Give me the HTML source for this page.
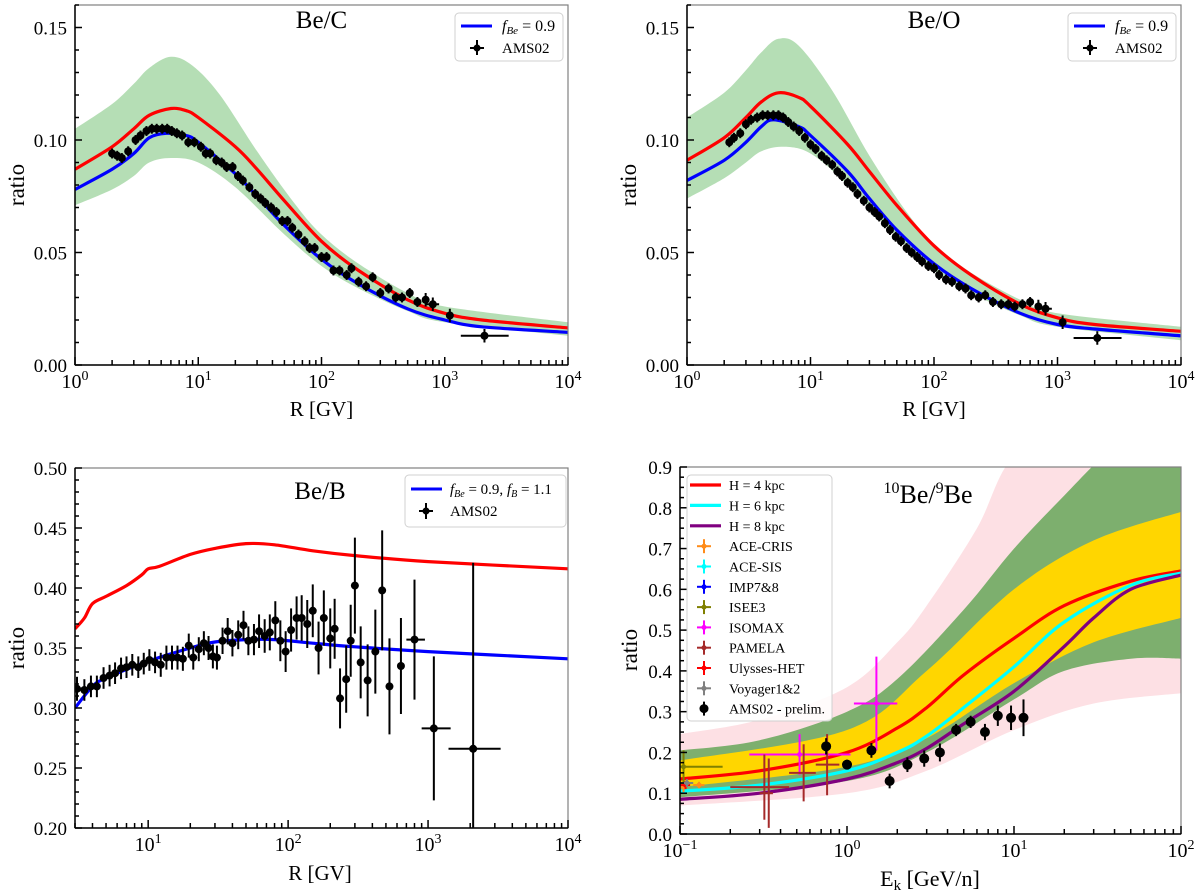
<!DOCTYPE html>
<html><head><meta charset="utf-8"><style>
body{margin:0;background:#fff}
svg{display:block;font-family:"Liberation Serif",serif}
</style></head><body>
<svg id="fig" width="1200" height="896" viewBox="0 0 1200 896" xmlns="http://www.w3.org/2000/svg"></svg>
<script>
// ---------- Panel 1: Be/C ----------
const bc_band_x=[1,2,3,4,6,9,15,30,60,100,200,500,1000,10000];
const bc_band_hi=[0.105,0.116,0.125,0.132,0.137,0.133,0.120,0.095,0.072,0.058,0.045,0.032,0.026,0.019];
const bc_band_lo_x=[1,2,3,4,6,10,20,50,100,200,500,1000,10000];
const bc_band_lo=[0.071,0.078,0.084,0.090,0.092,0.090,0.079,0.058,0.044,0.034,0.024,0.019,0.013];
const bc_blue_x=[1,2,3,4,5.5,8,10,20,30,50,100,200,500,1000,2000,10000];
const bc_blue_y=[0.078,0.087,0.094,0.101,0.103,0.102,0.099,0.085,0.075,0.062,0.047,0.036,0.025,0.020,0.017,0.0145];
const bc_red_x=[1,2,3,4,6,8,10,20,30,50,100,200,500,1000,2000,10000];
const bc_red_y=[0.087,0.097,0.105,0.111,0.114,0.113,0.110,0.097,0.087,0.073,0.055,0.042,0.029,0.023,0.020,0.0165];
const bc_data_x=[2.0,2.2,2.4,2.7,3.1,3.4,3.8,4.2,4.6,5.1,5.6,6.1,6.7,7.4,8.3,9.3,10.5,11.5,12.5,14,15.5,17,19,21,23,26,29,32,35,39,43,48,53,58,65,73,80,88,100,110,125,140,160,175,200,230,260,300,350,400,450,520,600,700,800,1100,2100];
const bc_data_y=[.094,.093,.092,.095,.100,.102,.104,.105,.105,.105,.105,.104,.103,.102,.099,.099,.097,.094,.094,.091,.090,.088,.088,.084,.082,.079,.076,.074,.072,.070,.068,.064,.064,.061,.058,.055,.052,.052,.048,.048,.042,.042,.040,.043,.037,.035,.039,.032,.034,.030,.030,.032,.028,.029,.027,.022,.013];
// ---------- Panel 2: Be/O ----------
const bo_band_x=[1,2,3,4,5.5,8,15,30,60,100,200,500,1000,10000];
const bo_band_hi=[0.110,0.121,0.131,0.139,0.145,0.142,0.122,0.093,0.068,0.054,0.041,0.029,0.023,0.017];
const bo_band_lo_x=[1,2,3,4,6,10,20,50,100,200,500,1000,10000];
const bo_band_lo=[0.074,0.083,0.090,0.095,0.097,0.094,0.080,0.057,0.042,0.032,0.022,0.017,0.011];
const bo_blue_x=[1,2,3,4,5,8,10,20,30,50,100,200,500,1000,2000,10000];
const bo_blue_y=[0.082,0.091,0.099,0.106,0.109,0.106,0.102,0.086,0.074,0.060,0.045,0.034,0.023,0.018,0.016,0.013];
const bo_red_x=[1,2,3,4,5.5,8,10,20,30,50,100,200,500,1000,2000,10000];
const bo_red_y=[0.091,0.101,0.110,0.117,0.121,0.119,0.115,0.098,0.086,0.071,0.053,0.040,0.027,0.021,0.018,0.015];
const bo_data_x=[2.2,2.4,2.7,3.0,3.3,3.7,4.1,4.5,5.0,5.5,6.0,6.6,7.3,8.1,9.0,10,11,12.3,13.5,15,16.5,18,20,22,24,27,30,33,36,40,44,49,54,60,66,73,80,90,100,110,125,140,160,180,200,230,260,300,350,400,450,520,600,700,800,1100,2100];
const bo_data_y=[.099,.101,.103,.107,.109,.110,.111,.111,.111,.111,.110,.108,.106,.104,.101,.098,.096,.093,.091,.089,.086,.084,.081,.079,.076,.073,.070,.068,.066,.063,.060,.057,.055,.052,.050,.048,.046,.044,.043,.040,.038,.037,.035,.034,.031,.030,.031,.028,.027,.027,.026,.027,.028,.026,.025,.019,.012];
// ---------- Panel 3: Be/B ----------
const bb_red_x=[3,3.5,4,5,7,9,10,12,20,30,50,80,150,300,1000,10000];
const bb_red_y=[.366,.375,.387,.393,.402,.411,.416,.418,.428,.433,.437,.436,.431,.427,.422,.416];
const bb_blue_x=[3,4,5,10,20,30,50,80,150,300,1000,10000];
const bb_blue_y=[.300,.318,.325,.339,.350,.355,.357,.357,.354,.351,.347,.341];
const bb_data_x=[3.1,3.5,3.9,4.3,4.8,5.3,5.8,6.4,7.0,7.7,8.5,9.3,10.2,11.2,12.3,13.5,14.8,16.2,17.7,19.5,21,23,25,27,29,31,34,37,40,44,48,52,57,62,68,74,81,88,96,105,115,125,137,150,165,180,200,215,235,260,280,300,330,370,420,470,530,640,800,1100,2100];
const bb_data_y=[.316,.315,.318,.318,.325,.327,.329,.333,.334,.336,.334,.337,.340,.338,.336,.342,.342,.342,.341,.352,.342,.349,.354,.350,.343,.342,.356,.364,.354,.361,.369,.356,.357,.364,.360,.363,.373,.356,.347,.365,.375,.375,.370,.381,.350,.375,.358,.366,.308,.324,.356,.402,.338,.323,.347,.398,.318,.335,.357,.283,.266];
const bb_data_err=[.010,.009,.009,.009,.009,.009,.009,.009,.009,.009,.009,.009,.009,.009,.010,.010,.010,.010,.010,.010,.010,.010,.010,.010,.010,.010,.011,.011,.011,.012,.012,.012,.013,.014,.014,.015,.016,.017,.017,.018,.018,.019,.020,.022,.022,.023,.025,.025,.025,.028,.030,.040,.030,.030,.035,.050,.040,.040,.050,.060,.155];
const bb_xerr_lo=[null,null,null,null,null,null,null,null,null,null,null,null,null,null,null,null,null,null,null,null,null,null,null,null,null,null,null,null,null,null,null,null,null,null,null,null,null,null,null,null,null,null,null,null,null,null,null,null,null,null,null,null,null,null,null,null,null,null,700,900,1400];
const bb_xerr_hi=[null,null,null,null,null,null,null,null,null,null,null,null,null,null,null,null,null,null,null,null,null,null,null,null,null,null,null,null,null,null,null,null,null,null,null,null,null,null,null,null,null,null,null,null,null,null,null,null,null,null,null,null,null,null,null,null,null,null,950,1450,3300];
// ---------- Panel 4: 10Be/9Be ----------
const be_pink_x=[0.1,0.3,1,2,3,6,10,30,100];
const be_pink_hi=[.245,.28,.36,.47,.56,.75,.93,1.1,1.2];
const be_pink_lo_x=[0.1,1,3,10,30,100];
const be_pink_lo=[.07,.10,.155,.255,.32,.345];
const be_green_x=[0.1,0.3,1,2,5,10,20,35,60,100];
const be_green_hi=[.205,.23,.30,.38,.55,.70,.83,.93,1.0,1.05];
const be_green_lo_x=[0.1,1,3,10,20,50,100];
const be_green_lo=[.09,.13,.20,.33,.40,.43,.43];
const be_yel_x=[0.1,1,3,10,30,100];
const be_yel_hi=[.18,.255,.40,.60,.72,.79];
const be_yel_lo=[.115,.165,.235,.37,.47,.53];
const be_red_x=[0.1,0.3,1,2,3,5,10,20,50,100];
const be_red_y=[.135,.155,.20,.26,.31,.39,.48,.56,.62,.645];
const be_cyan_x=[0.1,0.3,1,2,3,5,10,20,50,100];
const be_cyan_y=[.105,.12,.155,.20,.24,.31,.41,.52,.61,.64];
const be_purple_x=[0.1,0.3,1,2,3,5,10,20,30,50,100];
const be_purple_y=[.085,.10,.135,.175,.21,.27,.35,.46,.53,.60,.635];
const ams_x=[0.75,1.0,1.4,1.8,2.3,2.9,3.6,4.5,5.5,6.7,8.0,9.6,11.4];
const ams_y=[.215,.17,.205,.13,.17,.185,.20,.255,.275,.25,.29,.285,.285];
const ams_err=[.02,.012,.018,.018,.018,.02,.022,.015,.015,.02,.025,.03,.045];
const exp_name=['ACE-CRIS','ACE-CRIS','ISEE3','ISOMAX','ISOMAX','PAMELA','PAMELA','PAMELA','PAMELA','Ulysses-HET','Voyager1&2'];
const exp_x=[0.105,0.13,0.105,0.52,1.5,0.32,0.34,0.55,0.76,0.108,0.11];
const exp_y=[.115,.12,.165,.195,.32,.115,.10,.15,.17,.12,.125];
const exp_yerr=[.012,.008,.04,.05,.115,.08,.085,.07,.075,.01,.01];
const exp_xlo=[0.1,0.12,0.1,0.26,1.1,0.2,0.3,0.45,0.65,0.1,0.1];
const exp_xhi=[0.11,0.14,0.18,1.05,2.0,0.45,0.36,0.65,0.9,0.115,0.12];
const exp_color={'ACE-CRIS':'#ff8c1a','ISEE3':'#808000','ISOMAX':'#ff00ff','PAMELA':'#a52a2a','Ulysses-HET':'#ff0000','Voyager1&2':'#808080'};

const NS='http://www.w3.org/2000/svg';
const svg=document.getElementById('fig');
function el(tag,attrs,parent){const e=document.createElementNS(NS,tag);for(const k in attrs)e.setAttribute(k,attrs[k]);(parent||svg).appendChild(e);return e;}
function axes(L,R,T,B,x0,x1,y0,y1){
  const lx0=Math.log10(x0),lx1=Math.log10(x1);
  return {L,R,T,B,x:v=>L+(Math.log10(v)-lx0)/(lx1-lx0)*(R-L),y:v=>B-(v-y0)/(y1-y0)*(B-T),x0,x1,y0,y1};
}
function smooth(pts){
  let d='M'+pts[0][0].toFixed(1)+','+pts[0][1].toFixed(1);
  for(let i=0;i<pts.length-1;i++){
    const p0=pts[i-1]||pts[i],p1=pts[i],p2=pts[i+1],p3=pts[i+2]||p2;
    const c1=[p1[0]+(p2[0]-p0[0])/6,p1[1]+(p2[1]-p0[1])/6];
    const c2=[p2[0]-(p3[0]-p1[0])/6,p2[1]-(p3[1]-p1[1])/6];
    d+='C'+c1.map(v=>v.toFixed(1))+' '+c2.map(v=>v.toFixed(1))+' '+p2[0].toFixed(1)+','+p2[1].toFixed(1);
  }
  return d;
}
function clipFor(a,id){const cp=el('clipPath',{id});el('rect',{x:a.L,y:a.T,width:a.R-a.L,height:a.B-a.T},cp);return 'url(#'+id+')';}
function curve(a,g,xs,ys,color,name){
  const p=el('path',{d:smooth(xs.map((v,i)=>[a.x(v),a.y(ys[i])])),fill:'none',stroke:color,'stroke-width':3.2},g);
  
  
}
function band(a,g,xh,yh,xl,yl,color,name){
  const up=xh.map((v,i)=>[a.x(v),a.y(yh[i])]);
  const lo=xl.map((v,i)=>[a.x(v),a.y(yl[i])]).reverse();
  const d=smooth(up)+'L'+lo[0][0].toFixed(1)+','+lo[0][1].toFixed(1)+smooth(lo).replace(/^M[^C]*/,'')+'Z';
  const p=el('path',{d,fill:color,stroke:'none'},g);
  
  
}
function points(a,g,xs,ys,errs,color,name,xlo,xhi,r){
  xs.forEach((v,i)=>{
    const gg=el('g',{},g);
    
    
    const cx=a.x(v),cy=a.y(ys[i]),e=errs[i];
    el('line',{x1:cx,x2:cx,y1:a.y(ys[i]-e),y2:a.y(ys[i]+e),stroke:color,'stroke-width':2},gg);
    if(xlo&&xlo[i]!=null) el('line',{x1:a.x(xlo[i]),x2:a.x(xhi[i]),y1:cy,y2:cy,stroke:color,'stroke-width':2},gg);
    if(r) el('circle',{cx,cy,r,fill:color},gg);
  });
}
function frame(a,yt,ymin,fmt,name){
  const g=el('g',{});
  
  
  el('rect',{x:a.L,y:a.T,width:a.R-a.L,height:a.B-a.T,fill:'none',stroke:'#808080','stroke-width':1.2},g);
  el('line',{x1:a.L,x2:a.L,y1:a.T,y2:a.B,stroke:'#000','stroke-width':1.5},g);
  el('line',{x1:a.L,x2:a.R,y1:a.B,y2:a.B,stroke:'#000','stroke-width':1.5},g);
  for(let v=a.y0;v<=a.y1+1e-9;v+=ymin){
    const y=a.y(v);const maj=Math.abs(v/yt-Math.round(v/yt))<1e-6;
    el('line',{x1:a.L,x2:a.L+(maj?7:4),y1:y,y2:y,stroke:'#000','stroke-width':1.5},g);
    if(maj){const t=el('text',{x:a.L-8,y:y+7,'text-anchor':'end','font-size':19},g);t.textContent=v.toFixed(fmt);
      }
  }
  const e0=Math.floor(Math.log10(a.x0)),e1=Math.ceil(Math.log10(a.x1));
  for(let e=e0;e<=e1;e++){for(let m=1;m<10;m++){const v=m*Math.pow(10,e);if(v<a.x0*0.999||v>a.x1*1.001)continue;
    const x=a.x(v);el('line',{x1:x,x2:x,y1:a.B,y2:a.B-(m==1?8:5),stroke:'#000','stroke-width':1.5},g);
    if(m==1){const t=el('text',{x:x,y:a.B+23,'text-anchor':'middle','font-size':20},g);
      
      const s1=el('tspan',{},t);s1.textContent='10';const s2=el('tspan',{'font-size':14,dy:-8},t);s2.textContent=(e<0?'\u2212'+(-e):e);}
  }}
  return g;
}
function label(x,y,txt,size,name,rot){const t=el('text',{x,y,'text-anchor':'middle','font-size':size});if(rot)t.setAttribute('transform','rotate(-90 '+x+' '+y+')');t.textContent=txt;
  return t;}
function legendBox(x,y,w,h,name){const r=el('rect',{x,y,width:w,height:h,rx:4,fill:'#fff','fill-opacity':0.85,stroke:'#d0d0d0'});return r;}

function drawBeX(a,id,bx,bh,bxl,bl,bxb,byb,rx,ry,dx,dy,title,name){
  const g=el('g',{'clip-path':clipFor(a,id)});
  
  
  band(a,g,bx,bh,bxl,bl,'rgba(44,160,44,0.35)','uncertainty-band');
  curve(a,g,rx,ry,'#ff0000','red-model-line');
  curve(a,g,bxb,byb,'#0000ff','blue-model-line');
  points(a,g,dx,dy,dx.map((v,i)=>i>=dx.length-4?0.003:0.0022),'#000','ams02-point',dx.map((v,i)=>i==dx.length-1?1350:(i==dx.length-3?700:null)),dx.map((v,i)=>i==dx.length-1?3300:(i==dx.length-3?900:null)),4);
  frame(a,0.05,0.01,2,name);
  label((a.L+a.R)/2,a.T+23,title,25,name+'-title');
  label((a.L+a.R)/2,a.B+51,'R [GV]',21,'x-axis-title');
  label(a.L-51,(a.T+a.B)/2,'ratio',23,'y-axis-title',true);
  legendBox(a.R-113,13,108,48,name+'-legend');
  el('line',{x1:a.R-107,x2:a.R-76,y1:26,y2:26,stroke:'#0000ff','stroke-width':3});
  const t=el('text',{x:a.R-66,y:31,'font-size':16,'font-style':'italic'});
  t.innerHTML='f<tspan font-size="11" dy="3">Be</tspan><tspan font-style="normal" dy="-3"> = 0.9</tspan>';
  el('line',{x1:a.R-91,x2:a.R-91,y1:40,y2:55,stroke:'#000','stroke-width':2});
  el('line',{x1:a.R-98,x2:a.R-84,y1:48,y2:48,stroke:'#000','stroke-width':2});
  el('circle',{cx:a.R-91,cy:48,r:3.5,fill:'#000'});
  const t2=el('text',{x:a.R-66,y:53,'font-size':15});t2.textContent='AMS02';
}
const a1=axes(75,568,5,365,1,1e4,0,0.16);
drawBeX(a1,'c1',bc_band_x,bc_band_hi,bc_band_lo_x,bc_band_lo,bc_blue_x,bc_blue_y,bc_red_x,bc_red_y,bc_data_x,bc_data_y,'Be/C','be-c');
const a2=axes(687,1181,5,365,1,1e4,0,0.16);
drawBeX(a2,'c2',bo_band_x,bo_band_hi,bo_band_lo_x,bo_band_lo,bo_blue_x,bo_blue_y,bo_red_x,bo_red_y,bo_data_x,bo_data_y,'Be/O','be-o');

// ===== Panel 3 =====
const a3=axes(75,568,468,828,3,1e4,0.2,0.5);
{
  const g=el('g',{'clip-path':clipFor(a3,'c3')});
  
  
  curve(a3,g,bb_red_x,bb_red_y,'#ff0000','red-model-line');
  curve(a3,g,bb_blue_x,bb_blue_y,'#0000ff','blue-model-line');
  points(a3,g,bb_data_x,bb_data_y,bb_data_err,'#000','ams02-point',bb_xerr_lo,bb_xerr_hi,4);
  frame(a3,0.05,0.01,2,'be-b');
  label(320,499,'Be/B',25,'be-b-title');
  label(320,880,'R [GV]',21,'x-axis-title');
  label(24,648,'ratio',23,'y-axis-title',true);
  legendBox(405,475,161,52,'be-b-legend');
  el('line',{x1:411,x2:442,y1:489,y2:489,stroke:'#0000ff','stroke-width':3});
  const t=el('text',{x:450,y:494,'font-size':15,'font-style':'italic'});
  t.innerHTML='f<tspan font-size="10" dy="3">Be</tspan><tspan font-style="normal" dy="-3"> = 0.9, </tspan>f<tspan font-size="10" dy="3">B</tspan><tspan font-style="normal" dy="-3"> = 1.1</tspan>';
  el('line',{x1:426,x2:426,y1:503,y2:519,stroke:'#000','stroke-width':2});
  el('line',{x1:419,x2:433,y1:511,y2:511,stroke:'#000','stroke-width':2});
  el('circle',{cx:426,cy:511,r:3.5,fill:'#000'});
  const t2=el('text',{x:450,y:516,'font-size':15});t2.textContent='AMS02';
}

// ===== Panel 4 =====
const a4=axes(680,1181,467,834,0.1,100,0,0.9);
{
  const g=el('g',{'clip-path':clipFor(a4,'c4')});
  
  
  band(a4,g,be_pink_x,be_pink_hi,be_pink_lo_x,be_pink_lo,'#fde0e4','outer-band');
  band(a4,g,be_green_x,be_green_hi,be_green_lo_x,be_green_lo,'#7daf6e','green-band');
  band(a4,g,be_yel_x,be_yel_hi,be_yel_x,be_yel_lo,'#ffd600','yellow-band');
  curve(a4,g,be_red_x,be_red_y,'#ff0000','h4kpc-line');
  curve(a4,g,be_cyan_x,be_cyan_y,'#00ffff','h6kpc-line');
  curve(a4,g,be_purple_x,be_purple_y,'#800080','h8kpc-line');
  exp_name.forEach((n,i)=>{
    points(a4,g,[exp_x[i]],[exp_y[i]],[exp_yerr[i]],exp_color[n],'experiment-point-'+n.toLowerCase(),[exp_xlo[i]],[exp_xhi[i]],(n=='PAMELA')?0:2.5);
  });
  points(a4,g,ams_x,ams_y,ams_err,'#000','ams02-prelim-point',null,null,5);
  frame(a4,0.1,0.025,1,'be10-be9');
  const tt=label(928,503,'',26,'be10-be9-title');
  tt.innerHTML='<tspan font-size="16" dy="-10">10</tspan><tspan dy="10">Be/</tspan><tspan font-size="16" dy="-10">9</tspan><tspan dy="10">Be</tspan>';
  const xt=label(930,886,'',22,'x-axis-title');
  xt.innerHTML='E<tspan font-size="15" dy="4">k</tspan><tspan dy="-4"> [GeV/n]</tspan>';
  label(637,650,'ratio',23,'y-axis-title',true);
  legendBox(687,475,145,246,'be10-be9-legend');
  const lines=[['H = 4 kpc','#ff0000'],['H = 6 kpc','#00ffff'],['H = 8 kpc','#800080']];
  const exps=[['ACE-CRIS','#ff8c1a'],['ACE-SIS','#00ffff'],['IMP7&8','#0000ff'],['ISEE3','#808000'],['ISOMAX','#ff00ff'],['PAMELA','#a52a2a'],['Ulysses-HET','#ff0000'],['Voyager1&2','#808080'],['AMS02 - prelim.','#000']];
  let y=485;
  lines.forEach(l=>{el('line',{x1:690,x2:721,y1:y,y2:y,stroke:l[1],'stroke-width':3.2});
    const t=el('text',{x:729,y:y+5,'font-size':14});t.textContent=l[0];y+=20.4;});
  exps.forEach((l,i)=>{
    el('line',{x1:704,x2:704,y1:y-7,y2:y+7,stroke:l[1],'stroke-width':2});
    if(i<8) el('line',{x1:697,x2:711,y1:y,y2:y,stroke:l[1],'stroke-width':2});
    el('circle',{cx:704,cy:y,r:i==8?4.5:2.5,fill:l[1]});
    const t=el('text',{x:729,y:y+5,'font-size':14});t.textContent=l[0];y+=20.3;});
}
</script>
</body></html>
